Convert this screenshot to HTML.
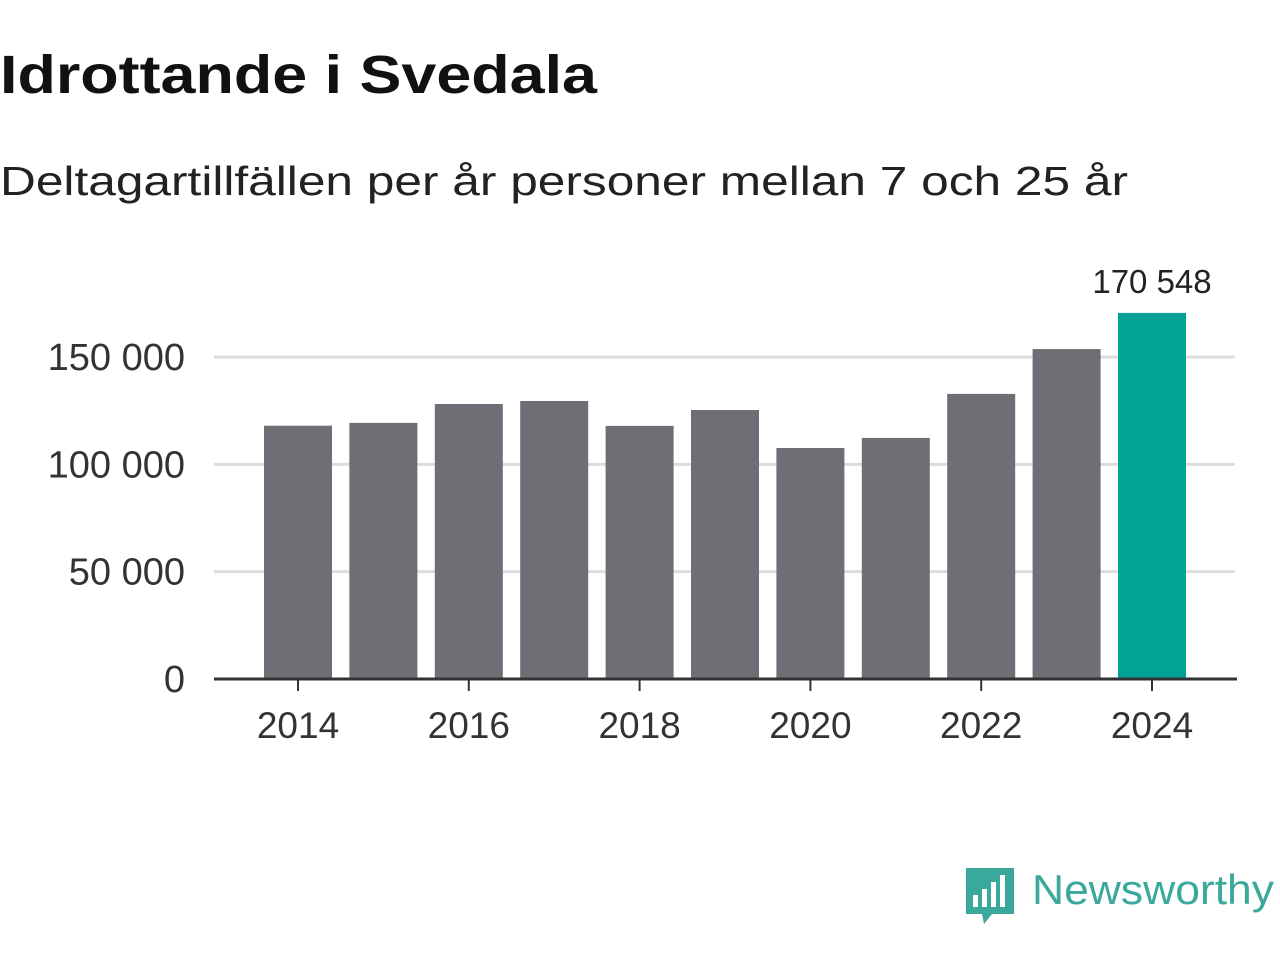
<!DOCTYPE html>
<html><head><meta charset="utf-8"><style>
body{margin:0;background:#fff;width:1280px;height:960px;overflow:hidden;font-family:"Liberation Sans",sans-serif;}
</style></head><body>
<svg width="1280" height="960" viewBox="0 0 1280 960" xmlns="http://www.w3.org/2000/svg">
<text x="0" y="93" font-size="54" font-weight="bold" fill="#111" textLength="597" lengthAdjust="spacingAndGlyphs">Idrottande i Svedala</text>
<text x="0" y="195" font-size="41" fill="#222" textLength="1128" lengthAdjust="spacingAndGlyphs">Deltagartillfällen per år personer mellan 7 och 25 år</text>
<g id="grid"></g><g id="bars"></g><g id="xaxis"></g>
<g>
<path d="M966 868 h48 v46 h-22 l-8 10 l-2 -10 h-16 z" fill="#3aa89a"/>
<rect x="973" y="895" width="5" height="12" fill="#fff"/><rect x="982" y="889" width="5" height="18" fill="#fff"/><rect x="991" y="882" width="5" height="25" fill="#fff"/><rect x="1000" y="875" width="5" height="32" fill="#fff"/>
<text x="1032" y="904" font-size="42" fill="#3aa89a" textLength="242" lengthAdjust="spacingAndGlyphs">Newsworthy</text>
</g>
</svg>
<script>
const years=[2014,2015,2016,2017,2018,2019,2020,2021,2022,2023,2024];
const values=[118000,119300,128100,129500,117900,125300,107600,112300,132800,153700,170548];
const yTicks=[0,50000,100000,150000];
const yTickLabels=["0","50 000","100 000","150 000"];
const xTickYears=[2014,2016,2018,2020,2022,2024];
const NS="http://www.w3.org/2000/svg";
const y0=679,pxPer=322/150000;
const yS=v=>y0-v*pxPer;
const xS=yr=>298+(yr-2014)*85.4;
const bw=68;
function mk(t,a,p){const e=document.createElementNS(NS,t);for(const k in a)e.setAttribute(k,a[k]);p.appendChild(e);return e;}
const grid=document.getElementById('grid'),bars=document.getElementById('bars'),xa=document.getElementById('xaxis');
yTicks.forEach((v,i)=>{
 if(v>0){const l=mk('line',{x1:214,x2:1235,y1:yS(v),y2:yS(v),stroke:'#ddd','stroke-width':3},grid);
 
 }
 const t=mk('text',{x:185,y:yS(v)+13,'text-anchor':'end','font-size':38,fill:'#333'},grid);
 t.textContent=yTickLabels[i];
 
 
});
years.forEach((yr,i)=>{
 const v=values[i];const last=i===years.length-1;
 const r=mk('rect',{x:xS(yr)-bw/2,y:yS(v),width:bw,height:y0-yS(v),fill:last?'#00a396':'#6f6e74'},bars);
 
 
 if(last){const t=mk('text',{x:xS(yr),y:yS(v)-20,'text-anchor':'middle','font-size':33,fill:'#222'},bars);
 t.textContent=v.toString().replace(/\B(?=(\d{3})+(?!\d))/g,' ');
 
 }
});
const ax=mk('line',{x1:214,x2:1237,y1:y0,y2:y0,stroke:'#333','stroke-width':3},xa);


xTickYears.forEach(yr=>{
 const tk=mk('line',{x1:xS(yr),x2:xS(yr),y1:y0,y2:y0+12,stroke:'#333','stroke-width':2},xa);
 
 
 const t=mk('text',{x:xS(yr),y:738,'text-anchor':'middle','font-size':37,fill:'#333'},xa);
 t.textContent=yr;
 
 
});
</script>
</body></html>
